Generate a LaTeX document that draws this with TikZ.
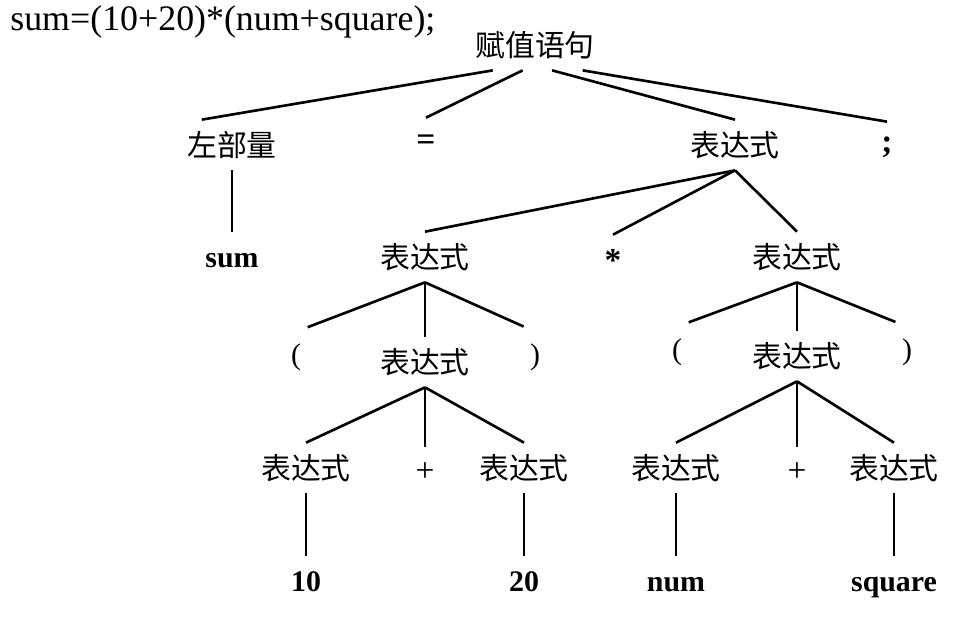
\documentclass[tikz,border=0pt]{standalone}
\usepackage{fontspec}
\setmainfont{Liberation Serif}
\newfontfamily\cjkfont{Noto Sans CJK SC}
\usetikzlibrary{positioning}
\tikzset{
  cjknode/.style={font=\cjkfont\fontsize{17}{20}\selectfont, minimum height=1cm, inner sep=0pt},
  leafnode/.style={font=\bfseries\fontsize{17}{20}\selectfont, minimum height=1cm, inner sep=0pt, text height=0.52cm, text depth=0.12cm},
  symnode/.style={font=\fontsize{17}{20}\selectfont, minimum height=1cm, inner sep=0pt},
  opnode/.style={font=\bfseries\fontsize{19}{22}\selectfont, minimum height=1cm, inner sep=0pt},
  plusnode/.style={font=\fontsize{19}{22}\selectfont, minimum height=1cm, inner sep=0pt},
  branch/.style={line width=1.5pt},
  toparen/.style={branch, shorten >=0.25cm}
}

\begin{document}
\begin{tikzpicture}[node distance=2cm and 2cm, on grid]
  \useasboundingbox (0,0) rectangle (19.52,-12.46);
  \node[anchor=base west, font=\fontsize{20.4}{24}\selectfont, inner sep=0pt] (source) at (0.2,-0.6) {sum=(10+20)*(num+square);};
  % top levels
  \node[cjknode] (assign) at (10.7,-0.9) {赋值语句};
  \node[cjknode, below left=2cm and 6.06cm of assign] (lhs) {左部量};
  \node[opnode, below left=1.96cm and 2.18cm of assign] (eq) {=};
  \node[cjknode, below right=2cm and 4cm of assign] (expr) {表达式};
  \node[opnode, below right=2.04cm and 7.04cm of assign] (semi) {;};
  \node[leafnode, below=2.24cm of lhs] (sum) {sum};
  \node[cjknode, below left=2.24cm and 6.2cm of expr] (exprL) {表达式};
  \node[opnode, below left=2.3cm and 2.44cm of expr] (star) {*};
  \node[cjknode, below right=2.24cm and 1.24cm of expr] (exprR) {表达式};
  % left bracket
  \node[symnode, below left=2cm and 2.58cm of exprL] (lparL) {(};
  \node[cjknode, below=2.1cm of exprL] (innerL) {表达式};
  \node[symnode, below right=2cm and 2.2cm of exprL] (rparL) {)};
  \node[cjknode, below left=2.12cm and 2.38cm of innerL] (termA) {表达式};
  \node[plusnode, below=2.2cm of innerL] (plusL) {+};
  \node[cjknode, below right=2.12cm and 1.98cm of innerL] (termB) {表达式};
  \node[leafnode, below=2.26cm of termA] (ten) {10};
  \node[leafnode, below=2.26cm of termB] (twenty) {20};
  % right bracket
  \node[symnode, below left=1.9cm and 2.4cm of exprR] (lparR) {(};
  \node[cjknode, below=1.98cm of exprR] (innerR) {表达式};
  \node[symnode, below right=1.9cm and 2.2cm of exprR] (rparR) {)};
  \node[cjknode, below left=2.24cm and 2.42cm of innerR] (termC) {表达式};
  \node[plusnode, below=2.32cm of innerR] (plusR) {+};
  \node[cjknode, below right=2.24cm and 1.94cm of innerR] (termD) {表达式};
  \node[leafnode, below=2.26cm of termC] (num) {num};
  \node[leafnode, below=2.26cm of termD] (square) {square};
  % branches
  \draw[branch] (assign.211) -- (lhs.140);
  \draw[branch] (assign.244) -- (eq.north);
  \draw[branch] (assign.304) -- (expr.north);
  \draw[branch] (assign.332) -- (semi.north);
  \draw[branch] (lhs.south) -- (sum.north);
  \draw[branch] (expr.south) -- (exprL.north);
  \draw[branch] (expr.south) -- (star.north);
  \draw[branch] (expr.south) -- (exprR.north);
  \draw[toparen] (exprL.south) -- (lparL.north);
  \draw[branch] (exprL.south) -- (innerL.north);
  \draw[toparen] (exprL.south) -- (rparL.north);
  \draw[toparen] (exprR.south) -- (lparR.north);
  \draw[branch] (exprR.south) -- (innerR.north);
  \draw[toparen] (exprR.south) -- (rparR.north);
  \draw[branch] (innerL.south) -- (termA.north);
  \draw[branch] (innerL.south) -- (plusL.north);
  \draw[branch] (innerL.south) -- (termB.north);
  \draw[branch] (innerR.south) -- (termC.north);
  \draw[branch] (innerR.south) -- (plusR.north);
  \draw[branch] (innerR.south) -- (termD.north);
  \draw[branch] (termA.south) -- (ten.north);
  \draw[branch] (termB.south) -- (twenty.north);
  \draw[branch] (termC.south) -- (num.north);
  \draw[branch] (termD.south) -- (square.north);
\end{tikzpicture}
\end{document}
